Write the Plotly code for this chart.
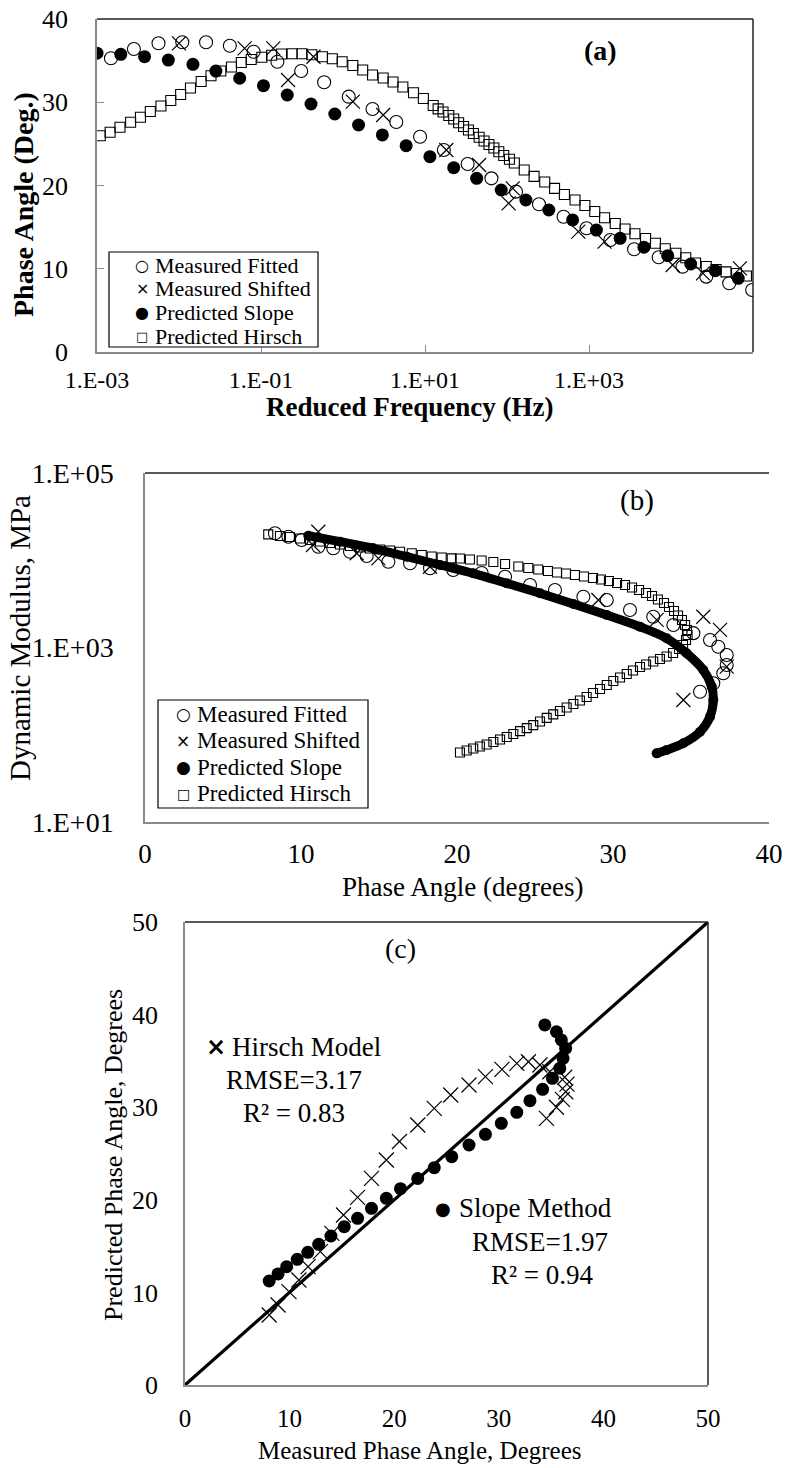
import numpy as np
import plotly.graph_objects as go

W, H = 788, 1468
FONT = "Liberation Serif"
SYMFONT = "DejaVu Sans"

# ---------------- Panel (a): phase angle vs reduced frequency ----------------
a_fit_log10_freq = [-2.83, -2.55, -2.25, -1.96, -1.67, -1.38, -1.09, -0.80, -0.51, -0.23, 0.07, 0.36, 0.65, 0.94,
                    1.23, 1.52, 1.81, 2.11, 2.39, 2.69, 2.97, 3.26, 3.55, 3.85, 4.14, 4.43, 4.71, 4.99]
a_fit_deg = [35.28, 36.40, 37.08, 37.20, 37.20, 36.79, 36.07, 34.87, 33.75, 32.40, 30.67, 29.19, 27.63, 25.86,
             24.26, 22.58, 20.86, 19.26, 17.74, 16.25, 14.86, 13.45, 12.34, 11.38, 10.25, 9.05, 8.25, 7.45]

a_shift_log10_freq = [-2.00, -1.20, -0.85, -0.36, -0.67, 0.12, 0.49, 1.26, 1.66, 2.07, 2.02, 2.87, 3.19, 4.02, 4.39, 4.84]
a_shift_deg = [37.08, 36.48, 36.48, 35.47, 32.67, 30.07, 28.47, 24.26, 22.46, 19.66, 17.86, 14.45, 13.25, 10.45, 9.45, 10.05]

a_slope_log10_freq = [-3.00, -2.71, -2.42, -2.13, -1.83, -1.55, -1.26, -0.97, -0.68, -0.39, -0.10, 0.19, 0.48, 0.77,
                      1.06, 1.35, 1.63, 1.93, 2.23, 2.51, 2.80, 3.09, 3.38, 3.67, 3.96, 4.24, 4.54, 4.82]
a_slope_deg = [35.90, 35.76, 35.47, 35.07, 34.56, 33.75, 32.88, 31.99, 30.87, 29.79, 28.59, 27.27, 26.07, 24.78,
               23.46, 22.14, 20.86, 19.46, 18.26, 17.06, 15.86, 14.65, 13.66, 12.58, 11.57, 10.57, 9.77, 8.85]

a_hirsch_log10_freq = [-2.96, -2.84, -2.72, -2.59, -2.47, -2.35, -2.22, -2.10, -1.98, -1.86, -1.73, -1.61, -1.49,
                       -1.36, -1.24, -1.12, -0.99, -0.87, -0.75, -0.62, -0.50, -0.38, -0.25, -0.13, -0.01, 0.12,
                       0.24, 0.36, 0.49, 0.61, 0.73, 0.86, 0.98, 1.10, 1.16, 1.22, 1.29, 1.35, 1.41, 1.47, 1.53,
                       1.59, 1.66, 1.72, 1.78, 1.84, 1.90, 1.96, 2.03, 2.09, 2.21, 2.33, 2.46, 2.58, 2.70, 2.83,
                       2.95, 3.07, 3.19, 3.32, 3.44, 3.56, 3.69, 3.81, 3.93, 4.06, 4.18, 4.30, 4.43, 4.55, 4.67,
                       4.80, 4.92]
a_hirsch_deg = [25.98, 26.39, 26.99, 27.59, 28.19, 28.89, 29.55, 30.21, 30.93, 31.71, 32.49, 33.19, 33.75,
                34.23, 34.77, 35.14, 35.41, 35.64, 35.80, 35.83, 35.82, 35.71, 35.47, 35.23, 34.87, 34.41,
                33.87, 33.27, 32.91, 32.43, 31.83, 31.15, 30.45, 29.61, 29.21, 28.83, 28.41, 27.99, 27.54, 27.09, 26.67,
                26.25, 25.79, 25.35, 24.92, 24.50, 24.05, 23.60, 23.15, 22.70, 21.86, 21.10, 20.42, 19.66, 18.92, 18.26,
                17.60, 16.88, 16.13, 15.44, 14.77, 14.21, 13.63, 13.06, 12.41, 11.86, 11.33, 10.69, 10.27, 9.91, 9.63,
                9.43, 9.13]

a_tick_vals = [1e-3, 1e-1, 1e1, 1e3]
a_tick_text = ["1.E-03", "1.E-01", "1.E+01", "1.E+03"]

# ---------------- Panel (b): dynamic modulus vs phase angle ----------------
b_fit_deg = [8.33, 9.19, 10.04, 11.11, 12.07, 13.14, 14.21, 15.60, 16.99, 18.27, 19.76, 21.58, 23.08, 24.68,
             26.28, 28.10, 29.60, 31.09, 32.58, 33.87, 35.15, 36.22, 36.75, 37.29, 37.29, 37.07, 36.43, 35.58]
b_fit_mpa = [20370, 18620, 17060, 14290, 13710, 12530, 11190, 9620, 9230, 8090, 7730, 7140, 6470, 5200,
             4560, 3820, 3500, 2690, 2250, 1810, 1460, 1220, 1020, 820, 630, 506, 389, 311]

b_shift_deg = [11.11, 10.77, 13.57, 14.96, 18.27, 29.06, 32.80, 35.79, 36.86, 37.29, 34.51]
b_shift_mpa = [21230, 14960, 12020, 10520, 8430, 3500, 2070, 2250, 1590, 603, 250]

b_slope_deg = [10.47, 12.50, 14.63, 16.78, 18.91, 21.04, 23.18, 25.32, 27.46, 29.60, 31.73, 33.44, 34.72,
               35.79, 36.33, 36.43, 36.22, 35.58, 34.51, 33.44, 32.80]
b_slope_mpa = [19100, 16330, 13710, 10990, 8830, 7080, 5450, 4180, 3155, 2355, 1730, 1274, 859,
               552, 356, 250, 161, 108, 79.8, 66.8, 61.2]

b_hirsch_deg = [7.90, 8.65, 9.29, 9.94, 10.58, 11.22, 11.86, 12.50, 13.14, 13.78, 14.42, 15.06, 15.71, 16.35,
                17.10, 17.74, 18.38, 19.02, 19.66, 20.19, 20.83, 21.58, 22.33, 23.08, 23.93, 24.57, 25.21,
                25.83, 26.41, 26.99, 27.56, 28.14, 28.72, 29.23, 29.74, 30.26, 30.77, 31.22, 31.67, 32.12,
                32.50, 32.88, 33.27, 33.59, 33.91, 34.17, 34.42, 34.62, 34.74, 34.78, 34.68, 34.49, 34.23,
                33.85, 33.44, 33.01, 32.58, 32.12, 31.73, 31.28, 30.88, 30.45, 30.02, 29.60, 29.17, 28.72,
                28.31, 27.88, 27.46, 27.03, 26.60, 26.17, 25.75, 25.32, 24.89, 24.47, 24.04, 23.61, 23.19,
                22.76, 22.33, 21.90, 21.47, 21.04, 20.62, 20.19]
b_hirsch_mpa = [19800, 18970, 18450, 17740, 17060, 16410, 15780, 15170, 14550, 14000, 13650, 13270, 12940, 12530,
                12020, 11480, 11040, 10760, 10520, 10470, 10210, 9930, 9550, 9060, 8470, 8150, 7830,
                7530, 7240, 7050, 6780, 6520, 6270, 6010, 5780, 5480, 5200, 4880, 4560, 4220,
                3890, 3550, 3240, 2910, 2620, 2330, 2070, 1810, 1590, 1390, 1220, 1070, 962,
                865, 789, 738, 692, 638, 598, 545, 497, 453, 413, 372, 334, 301,
                271, 247, 225, 205, 187, 171, 156, 142, 129, 119, 110, 102, 94.2,
                88.3, 82.6, 77.3, 73.3, 69.5, 66.1, 62.7]

b_tick_vals = [1e1, 1e3, 1e5]
b_tick_text = ["1.E+01", "1.E+03", "1.E+05"]

# ---------------- Panel (c): predicted vs measured phase angle ----------------
c_slope_measured = [8.05, 8.9, 9.72, 10.73, 11.74, 12.78, 13.95, 15.22, 16.5, 17.83, 19.25, 20.6, 22.25, 23.83,
                    25.5, 27.15, 28.72, 30.24, 31.72, 32.98, 34.19, 35.13, 35.83, 36.14, 36.39, 35.98, 35.51, 34.4]
c_slope_predicted = [11.23, 12.0, 12.78, 13.57, 14.33, 15.19, 16.09, 17.1, 18.0, 19.08, 20.16, 21.2, 22.3, 23.47,
                     24.66, 25.92, 27.07, 28.26, 29.45, 30.7, 31.93, 33.12, 34.2, 35.28, 36.36, 37.26, 38.15, 38.88]
c_hirsch_measured = [8.05, 8.9, 9.94, 10.89, 11.77, 12.94, 14.04, 15.15, 16.5, 17.83, 19.25, 20.5, 22.25, 23.83,
                     25.4, 27.15, 28.72, 30.3, 31.72, 32.83, 33.93, 34.88, 36.3, 36.52, 36.4, 36.08, 35.51, 34.56]
c_hirsch_predicted = [7.56, 8.64, 10.08, 11.34, 12.78, 14.4, 16.38, 18.36, 20.27, 22.32, 24.3, 26.3, 28.08, 29.87,
                      31.32, 32.4, 33.3, 34.09, 34.74, 34.91, 34.56, 33.83, 33.23, 32.5, 31.67, 30.85, 29.99, 28.8]
c_equality_line = [0, 50]

legend_names = ["Measured Fitted", "Measured Shifted", "Predicted Slope", "Predicted Hirsch"]
legend_glyphs = ["○", "×", "●", "□"]

# ---------------- helpers (pixel -> paper) ----------------
def fx(px):
    return px / W

def fy(py):
    return 1 - py / H

GRAY = "#8a8a8a"
BLK = "black"

fig = go.Figure()

# ---- panel (a) traces
fig.add_trace(go.Scatter(x=10 ** np.array(a_fit_log10_freq), y=a_fit_deg, mode="markers", name=legend_names[0],
                         marker=dict(symbol="circle-open", size=13, color=BLK, line=dict(width=1.1)),
                         xaxis="x", yaxis="y"))
fig.add_trace(go.Scatter(x=10 ** np.array(a_shift_log10_freq), y=a_shift_deg, mode="markers", name=legend_names[1],
                         marker=dict(symbol="x-thin-open", size=14, color=BLK, line=dict(width=1.2, color=BLK)),
                         xaxis="x", yaxis="y"))
fig.add_trace(go.Scatter(x=10 ** np.array(a_slope_log10_freq), y=a_slope_deg, mode="markers", name=legend_names[2],
                         marker=dict(symbol="circle", size=13, color=BLK),
                         xaxis="x", yaxis="y"))
fig.add_trace(go.Scatter(x=10 ** np.array(a_hirsch_log10_freq), y=a_hirsch_deg, mode="markers", name=legend_names[3],
                         marker=dict(symbol="square-open", size=10, color=BLK, line=dict(width=1.1)),
                         xaxis="x", yaxis="y"))

# ---- panel (b) traces
fig.add_trace(go.Scatter(x=b_slope_deg, y=b_slope_mpa, mode="lines",
                         line=dict(color=BLK, width=9, shape="spline"), xaxis="x2", yaxis="y2"))
fig.add_trace(go.Scatter(x=b_fit_deg, y=b_fit_mpa, mode="markers", name=legend_names[0],
                         marker=dict(symbol="circle-open", size=13, color=BLK, line=dict(width=1.1)),
                         xaxis="x2", yaxis="y2"))
fig.add_trace(go.Scatter(x=b_shift_deg, y=b_shift_mpa, mode="markers", name=legend_names[1],
                         marker=dict(symbol="x-thin-open", size=14, color=BLK, line=dict(width=1.2, color=BLK)),
                         xaxis="x2", yaxis="y2"))
fig.add_trace(go.Scatter(x=b_slope_deg, y=b_slope_mpa, mode="markers", name=legend_names[2],
                         marker=dict(symbol="circle", size=10, color=BLK),
                         xaxis="x2", yaxis="y2"))
fig.add_trace(go.Scatter(x=b_hirsch_deg, y=b_hirsch_mpa, mode="markers", name=legend_names[3],
                         marker=dict(symbol="square-open", size=9, color=BLK, line=dict(width=1.1)),
                         xaxis="x2", yaxis="y2"))

# ---- panel (c) traces
fig.add_trace(go.Scatter(x=c_equality_line, y=c_equality_line, mode="lines",
                         line=dict(color=BLK, width=3.2), xaxis="x3", yaxis="y3"))
fig.add_trace(go.Scatter(x=c_hirsch_measured, y=c_hirsch_predicted, mode="markers", name="Hirsch Model",
                         marker=dict(symbol="x-thin-open", size=15, color=BLK, line=dict(width=1.2, color=BLK)),
                         xaxis="x3", yaxis="y3"))
fig.add_trace(go.Scatter(x=c_slope_measured, y=c_slope_predicted, mode="markers", name="Slope Method",
                         marker=dict(symbol="circle", size=13, color=BLK),
                         xaxis="x3", yaxis="y3"))


def tf(size):
    return dict(family=FONT, size=size, color=BLK)


common = dict(showgrid=False, zeroline=False, showline=True, linecolor=GRAY, linewidth=1.5)

fig.update_layout(
    width=W, height=H, margin=dict(l=0, r=0, t=0, b=0, pad=0, autoexpand=False),
    paper_bgcolor="white", plot_bgcolor="white", showlegend=False,
    font=dict(family=FONT, color=BLK),
    xaxis=dict(domain=[fx(97), fx(753)], anchor="y", type="log", range=[-3, 5],
               tickvals=a_tick_vals, ticktext=a_tick_text, tickfont=tf(24),
               ticks="inside", ticklen=7, tickcolor=GRAY, ticklabelstandoff=5, **common),
    yaxis=dict(domain=[fy(352), fy(19)], anchor="x", range=[0, 40], dtick=10, tickfont=tf(26),
               ticks="inside", ticklen=7, tickcolor=GRAY, ticklabelstandoff=22, **common),
    xaxis2=dict(domain=[fx(145), fx(769)], anchor="y2", range=[0, 40], dtick=10, tickfont=tf(27),
                ticks="", ticklabelstandoff=7, **common),
    yaxis2=dict(domain=[fy(822), fy(473)], anchor="x2", type="log", range=[1, 5],
                tickvals=b_tick_vals, ticktext=b_tick_text, tickfont=tf(28),
                ticks="", ticklabelstandoff=24, **common),
    xaxis3=dict(domain=[fx(185), fx(708)], anchor="y3", range=[0, 50], dtick=10, tickfont=tf(25),
                ticks="", ticklabelstandoff=10, **common),
    yaxis3=dict(domain=[fy(1385), fy(922)], anchor="x3", range=[0, 50], dtick=10, tickfont=tf(26),
                ticks="", ticklabelstandoff=20, **common),
)

# panel borders (top/right) and legend boxes
shapes = []
for ax, right in (("", True), ("2", False), ("3", True)):
    xr = "x%s domain" % ax
    yr = "y%s domain" % ax
    shapes.append(dict(type="line", xref=xr, yref=yr, x0=0, x1=1, y0=1, y1=1, line=dict(color="#222", width=1.5)))
    if right:
        shapes.append(dict(type="line", xref=xr, yref=yr, x0=1, x1=1, y0=0, y1=1, line=dict(color="#222", width=1.5)))


def legend_box(x0, y0, x1, y1):
    shapes.append(dict(type="rect", xref="paper", yref="paper", x0=fx(x0), x1=fx(x1), y0=fy(y1), y1=fy(y0),
                       line=dict(color=BLK, width=1.2), fillcolor="white", layer="above"))


legend_box(109, 252, 318, 347)
legend_box(158, 700, 368, 808)
fig.update_layout(shapes=shapes)


def ann(text, px, py, size, bold=False, angle=0, xanchor="center", family=FONT):
    t = "<b>%s</b>" % text if bold else text
    fig.add_annotation(text=t, x=fx(px), y=fy(py), xref="paper", yref="paper", showarrow=False,
                       font=dict(family=family, size=size, color=BLK), textangle=angle,
                       xanchor=xanchor, yanchor="middle", borderpad=0)


# legends drawn as text rows
for i, (g, n) in enumerate(zip(legend_glyphs, legend_names)):
    ya = 265 + i * 23.7
    ann(g, 142, ya, 16 if g != "□" else 13, xanchor="center", family=SYMFONT)
    ann(n, 154, ya, 22, xanchor="left")
    yb = 714 + i * 26.5
    ann(g, 183, yb, 17 if g != "□" else 14, xanchor="center", family=SYMFONT)
    ann(n, 196, yb, 23, xanchor="left")

ann("(a)", 600, 50, 28, bold=True)
ann("Phase Angle (Deg.)", 24, 205, 28, bold=True, angle=-90)
ann("Reduced Frequency (Hz)", 410, 407, 27, bold=True)

ann("(b)", 637, 500, 29)
ann("Dynamic Modulus, MPa", 20, 638, 29, angle=-90)
ann("Phase Angle (degrees)", 462, 887, 27)

ann("(c)", 400, 948, 28)
ann("Predicted Phase Angle, Degrees", 113, 1155, 26, angle=-90)
ann("Measured Phase Angle, Degrees", 420, 1450, 25)
ann("<b>×</b>", 216, 1047, 24, family=SYMFONT)
ann("Hirsch Model", 231, 1047, 27, xanchor="left")
ann("RMSE=3.17", 294, 1080, 27)
ann("R² = 0.83", 294, 1113, 27)
ann("●", 443, 1208, 18, family=SYMFONT)
ann("Slope Method", 458, 1208, 27, xanchor="left")
ann("RMSE=1.97", 540, 1242, 27)
ann("R² = 0.94", 542, 1275, 27)

fig.write_html("out.html")
